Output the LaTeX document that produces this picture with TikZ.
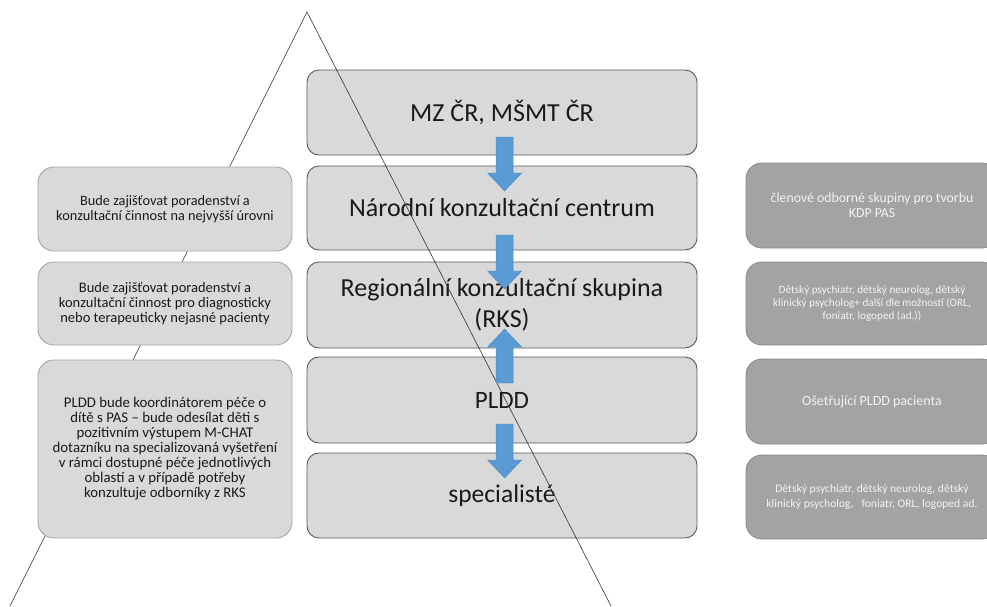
\documentclass[tikz,border=0pt]{standalone}
\usepackage{fontspec}
\setmainfont{Carlito}
\definecolor{cfill}{HTML}{D9D9D9}
\definecolor{cdraw}{HTML}{595959}
\definecolor{ldraw}{HTML}{A6A6A6}
\definecolor{rfill}{HTML}{A3A3A3}
\definecolor{rdraw}{HTML}{8C8C8C}
\definecolor{rtext}{HTML}{F2F2F2}
\definecolor{ablue}{HTML}{5B9BD5}
\definecolor{ablueb}{HTML}{4A8AC8}
\definecolor{ttext}{HTML}{1A1A1A}
\tikzset{
  cbox/.style={draw=cdraw, fill=cfill, line width=0.9pt, rounded corners=12pt,
    minimum width=390pt, inner sep=0pt, align=center, text=ttext,
    font=\fontsize{26}{31}\selectfont},
  lbox/.style={draw=ldraw, fill=cfill, line width=0.9pt, rounded corners=16pt,
    minimum width=254pt, inner sep=0pt, align=center, text=ttext,
    font=\fontsize{14}{15}\selectfont},
  rbox/.style={draw=rdraw, fill=rfill, line width=0.9pt, rounded corners=16pt,
    minimum width=252pt, inner sep=0pt, align=center, text=rtext,
    font=\fontsize{13.8}{15}\selectfont},
  tri/.style={draw=black!80, line width=0.6pt},
  blockarrow/.pic={
    \fill[ablue, draw=ablueb, line width=0.4pt]
      (-8.5,0) -- (8.5,0) -- (8.5,36) -- (17,36) -- (0,54) -- (-17,36) -- (-8.5,36) -- cycle;
  }
}
\begin{document}
\begin{tikzpicture}[x=1pt, y=-1pt]
\useasboundingbox (0,0) rectangle (987,606);
% centre column
\node[cbox, minimum height=85pt] (mz) at (502,112.5) {MZ ČR, MŠMT ČR};
\node[cbox, minimum height=84pt] (nkc) at (502,208) {Národní konzultační centrum};
\node[cbox, minimum height=86pt] (rks) at (502,305) {Regionální konzultační skupina\\(RKS)};
\node[cbox, minimum height=86pt, font=\fontsize{25}{30}\selectfont] (pldd) at (502,400) {PLDD};
\node[cbox, minimum height=85pt, font=\fontsize{25.5}{30}\selectfont] (spec) at (502,495.5) {specialisté};
% triangle
\coordinate (apex) at (307,12);
\coordinate (bl) at (10,606);
\coordinate (br) at (611,606);
\draw[tri] (bl) -- (apex) -- (br);
% left column
\node[lbox, minimum height=84pt, font=\fontsize{14.3}{15}\selectfont] (la) at (165,209) {Bude zajišťovat poradenství a\\konzultační činnost na nejvyšší úrovni};
\node[lbox, minimum height=83pt, font=\fontsize{14.5}{15}\selectfont] (lb) at (165,303.5) {Bude zajišťovat poradenství a\\konzultační činnost pro diagnosticky\\nebo terapeuticky nejasné pacienty};
\node[lbox, minimum height=178pt, font=\fontsize{14.8}{15}\selectfont] (lc) at (165,449) {PLDD bude koordinátorem péče o\\dítě s PAS – bude odesílat děti s\\pozitivním výstupem M-CHAT\\dotazníku na specializovaná vyšetření\\v rámci dostupné péče jednotlivých\\oblastí a v případě potřeby\\konzultuje odborníky z RKS};
% right column
\node[rbox, minimum height=85pt] (ra) at (872,205.5) {členové odborné skupiny pro tvorbu\\KDP PAS};
\node[rbox, minimum height=83pt, font=\fontsize{11.2}{13.3}\selectfont] (rb) at (872,303.5) {Dětský psychiatr, dětský neurolog, dětský\\klinický psycholog+ další dle možností (ORL,\\foniatr, logoped (ad.))};
\node[rbox, minimum height=85pt, font=\fontsize{14}{15}\selectfont] (rc) at (872,401.5) {Ošetřující PLDD pacienta};
\node[rbox, minimum height=84pt, font=\fontsize{11.6}{15.5}\selectfont] (rd) at (872,497) {Dětský psychiatr, dětský neurolog, dětský\\klinický psycholog,\ \ \ foniatr, ORL, logoped ad.};
% arrows
\pic at (504.6,137) {blockarrow};
\pic at (504.6,235) {blockarrow};
\pic[rotate=180] at (504.6,383) {blockarrow};
\pic at (504.6,424) {blockarrow};
\end{tikzpicture}
\end{document}
